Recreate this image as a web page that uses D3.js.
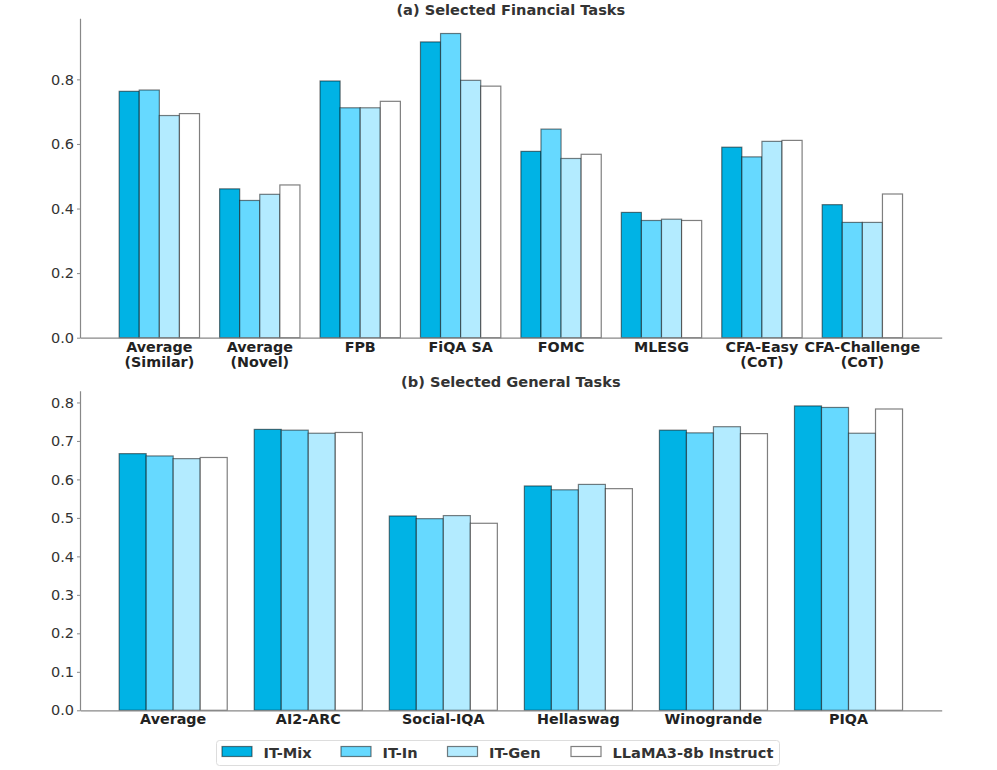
<!DOCTYPE html>
<html>
<head>
<meta charset="utf-8">
<script src="https://cdn.jsdelivr.net/npm/d3@7"></script>
<style>
  body { margin: 0; background: #fff; }
  text { font-family: "DejaVu Sans", sans-serif; }
</style>
</head>
<body>
<script>
// data
const series = ["IT-Mix", "IT-In", "IT-Gen", "LLaMA3-8b Instruct"];
const colors = ["#00b3e5", "#66d9ff", "#b3ebff", "#ffffff"];

const finTasks = ["Average\n(Similar)", "Average\n(Novel)", "FPB", "FiQA SA", "FOMC", "MLESG", "CFA-Easy\n(CoT)", "CFA-Challenge\n(CoT)"];
const finMix = [0.763, 0.461, 0.795, 0.916, 0.577, 0.388, 0.590, 0.412];
const finIn = [0.767, 0.425, 0.712, 0.942, 0.646, 0.363, 0.560, 0.357];
const finGen = [0.688, 0.444, 0.712, 0.797, 0.555, 0.367, 0.608, 0.357];
const finLlama = [0.694, 0.473, 0.732, 0.779, 0.568, 0.363, 0.611, 0.445];
const finTicks = [0.0, 0.2, 0.4, 0.6, 0.8];

const genTasks = ["Average", "AI2-ARC", "Social-IQA", "Hellaswag", "Winogrande", "PIQA"];
const genMix = [0.667, 0.730, 0.505, 0.583, 0.728, 0.791];
const genIn = [0.661, 0.728, 0.498, 0.573, 0.721, 0.787];
const genGen = [0.654, 0.720, 0.506, 0.587, 0.737, 0.720];
const genLlama = [0.657, 0.722, 0.486, 0.576, 0.719, 0.783];
const genTicks = [0.0, 0.1, 0.2, 0.3, 0.4, 0.5, 0.6, 0.7, 0.8];

const w = 997;
const h = 770;

const svg = d3.select("body")
  .append("svg")
    .attr("width", w)
    .attr("height", h);

function panel(opts) {
  const {tasks, vals, ticks, top, bottom, title, titleY} = opts;
  const left = 80, right = 941.7;
  const ymax = d3.max(vals.flat()) * 1.05;
  const n = tasks.length;

  // 5% margin on each side like matplotlib
  const xScale = d3.scaleBand()
      .domain(tasks)
      .range([left, right])
      .paddingInner(0.2)
      .paddingOuter(0.05 * (n - 0.2));

  const inner = d3.scaleBand()
      .domain(series)
      .range([0, xScale.bandwidth()]);

  const yScale = d3.scaleLinear()
      .domain([0, ymax])
      .range([bottom, top]);

  const g = svg.append("g");

  // bars
  series.forEach((s, si) => {
    g.append("g")
      .selectAll("rect")
      .data(tasks.map((t, i) => ({task: t, value: vals[si][i]})))
      .enter().append("rect")
        .attr("x", d => xScale(d.task) + inner(s))
        .attr("y", d => yScale(d.value))
        .attr("width", inner.bandwidth())
        .attr("height", d => bottom - yScale(d.value))
        .attr("fill", colors[si])
        .attr("stroke", "black")
        .attr("stroke-opacity", 0.5)
        .attr("stroke-width", 1.2);
  });

  // y axis
  const yAxis = d3.axisLeft(yScale)
      .tickValues(ticks)
      .tickFormat(d3.format(".1f"))
      .tickSizeInner(3)
      .tickSizeOuter(0)
      .tickPadding(3);

  const ya = g.append("g")
      .attr("transform", `translate(${left},0)`)
      .call(yAxis);
  ya.select(".domain").attr("stroke", "#888").attr("stroke-width", 1.2);
  ya.selectAll(".tick line").attr("stroke", "#888");
  ya.selectAll(".tick text")
      .attr("fill", "#333")
      .style("font-size", "14.5px");

  // x axis
  const xa = g.append("g")
      .attr("transform", `translate(0,${bottom})`)
      .call(d3.axisBottom(xScale).tickSize(0).tickFormat(""));
  xa.select(".domain").attr("stroke", "#888").attr("stroke-width", 1.2);

  xa.selectAll(".tick").each(function(d) {
    const t = d3.select(this).append("text")
        .attr("fill", "#222")
        .attr("text-anchor", "middle")
        .style("font-size", "14.3px")
        .style("font-weight", "bold");
    d.split("\n").forEach((line, i) => {
      t.append("tspan")
          .attr("x", 0)
          .attr("y", 14 + i * 15.5)
          .text(line);
    });
  });

  svg.append("text")
      .attr("x", (left + right) / 2)
      .attr("y", titleY)
      .attr("text-anchor", "middle")
      .attr("fill", "#333")
      .style("font-size", "14.6px")
      .style("font-weight", "bold")
      .text(title);
}

panel({
  tasks: finTasks,
  vals: [finMix, finIn, finGen, finLlama],
  ticks: finTicks,
  top: 18.3, bottom: 337.7,
  title: "(a) Selected Financial Tasks",
  titleY: 15
});

panel({
  tasks: genTasks,
  vals: [genMix, genIn, genGen, genLlama],
  ticks: genTicks,
  top: 390.7, bottom: 710.3,
  title: "(b) Selected General Tasks",
  titleY: 387
});

// legend
const legend = svg.append("g");
legend.append("rect")
    .attr("x", 216.5)
    .attr("y", 740.5)
    .attr("width", 563)
    .attr("height", 25)
    .attr("rx", 3)
    .attr("fill", "white")
    .attr("stroke", "#ddd");

const legX = [222, 341, 447.5, 571];
series.forEach((s, i) => {
  legend.append("rect")
      .attr("x", legX[i])
      .attr("y", 746.5)
      .attr("width", 30)
      .attr("height", 10)
      .attr("fill", colors[i])
      .attr("stroke", "black")
      .attr("stroke-opacity", 0.5)
      .attr("stroke-width", 1.2);
  legend.append("text")
      .attr("x", legX[i] + 41.5)
      .attr("y", 757.5)
      .attr("fill", "#333")
      .style("font-size", "14.6px")
      .style("font-weight", "bold")
      .text(s);
});
</script>
</body>
</html>
